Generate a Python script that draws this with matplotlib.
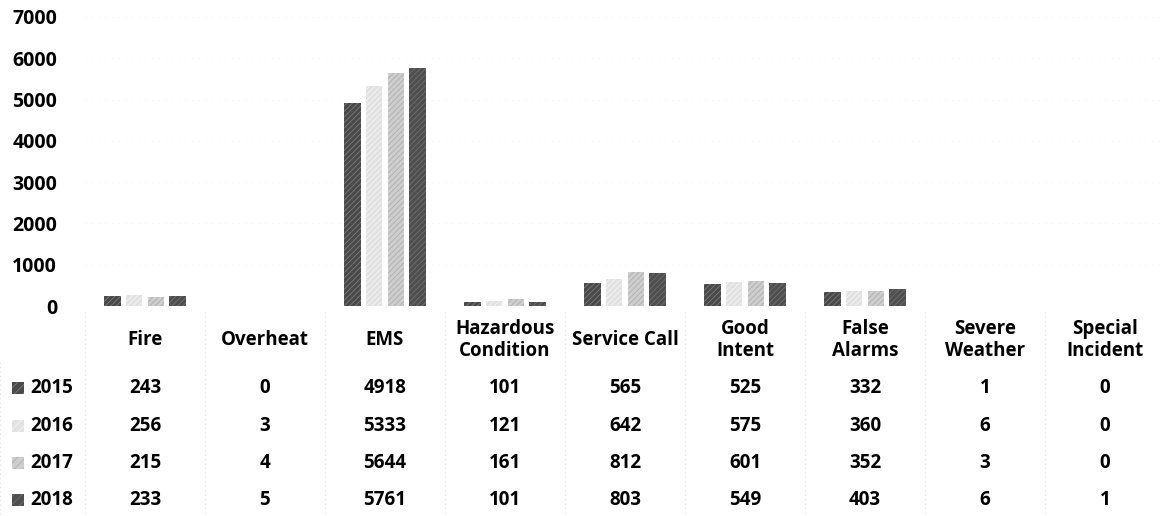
import matplotlib

matplotlib.use("Agg")
import matplotlib.pyplot as plt
import matplotlib.transforms as mtransforms
from matplotlib.patches import Rectangle
import numpy as np

categories = [
    "Fire",
    "Overheat",
    "EMS",
    "Hazardous\nCondition",
    "Service Call",
    "Good\nIntent",
    "False\nAlarms",
    "Severe\nWeather",
    "Special\nIncident",
]
years = ["2015", "2016", "2017", "2018"]
counts_2015 = [243, 0, 4918, 101, 565, 525, 332, 1, 0]
counts_2016 = [256, 3, 5333, 121, 642, 575, 360, 6, 0]
counts_2017 = [215, 4, 5644, 161, 812, 601, 352, 3, 0]
counts_2018 = [233, 5, 5761, 101, 803, 549, 403, 6, 1]
series = [counts_2015, counts_2016, counts_2017, counts_2018]

colors = ["#4a4a4a", "#e2e2e2", "#cdcdcd", "#4f4f4f"]
hatch_colors = ["#7a7a7a", "#f4f4f4", "#b0b0b0", "#6e6e6e"]

plt.rcParams["font.family"] = ["Open Sans", "DejaVu Sans"]
plt.rcParams["font.weight"] = "bold"
plt.rcParams["hatch.linewidth"] = 0.6
FS = 13.5

W, H = 1165, 516
fig = plt.figure(figsize=(W / 100, H / 100), dpi=100)
ax = fig.add_axes([85 / W, 1 - 306 / H, 1080 / W, (306 - 17) / H])

x = np.arange(len(categories))
step = 0.18
width = 0.137
for i, vals in enumerate(series):
    ax.bar(
        x + (i - 1.5) * step,
        vals,
        width,
        color=colors[i],
        edgecolor=hatch_colors[i],
        linewidth=0,
        hatch="//////",
    )

ax.set_xlim(-0.5, len(categories) - 0.5)
ax.set_ylim(0, 7000)
ax.set_yticks(range(0, 7001, 1000))
ax.set_xticks([])
ax.tick_params(axis="y", length=0, pad=20, labelsize=FS + 0.5)
for lbl in ax.get_yticklabels():
    lbl.set_fontweight("bold")
for s in ax.spines.values():
    s.set_visible(False)
ax.grid(axis="y", color="#f2f2f2", linestyle=(0, (1, 5)), linewidth=0.8)
ax.set_axisbelow(True)

# data table under the plot
tr = mtransforms.blended_transform_factory(ax.transData, fig.transFigure)
header_y = 1 - 340 / H
row_y = [1 - 388 / H, 1 - 426 / H, 1 - 463 / H, 1 - 500 / H]

for xi, cat in zip(x, categories):
    ax.text(xi, header_y, cat, transform=tr, ha="center", va="center",
            fontsize=FS, fontweight="bold", linespacing=1.15, clip_on=False)

for i, vals in enumerate(series):
    for xi, v in zip(x, vals):
        ax.text(xi, row_y[i], str(v), transform=tr, ha="center", va="center",
                fontsize=FS, fontweight="bold", clip_on=False)
    fig.add_artist(Rectangle((12 / W, row_y[i] - 6 / H), 12 / W, 12 / H,
                             transform=fig.transFigure, facecolor=colors[i],
                             edgecolor=hatch_colors[i], linewidth=0, hatch="////"))
    fig.text(30 / W, row_y[i], years[i], ha="left", va="center",
             fontsize=FS, fontweight="bold")

# faint dotted table borders
for xb in np.arange(-0.5, len(categories) - 0.4, 1.0):
    ax.plot([xb, xb], [1 - 312 / H, 0.0], transform=tr, color="#e0e0e0",
            linestyle=(0, (1, 3)), linewidth=0.8, clip_on=False)
ax.plot([0, 0], [1 - 362 / H, 0.0], transform=fig.transFigure, color="#e0e0e0",
        linestyle=(0, (1, 3)), linewidth=0.8, clip_on=False)

fig.savefig("out.png", dpi=100)
